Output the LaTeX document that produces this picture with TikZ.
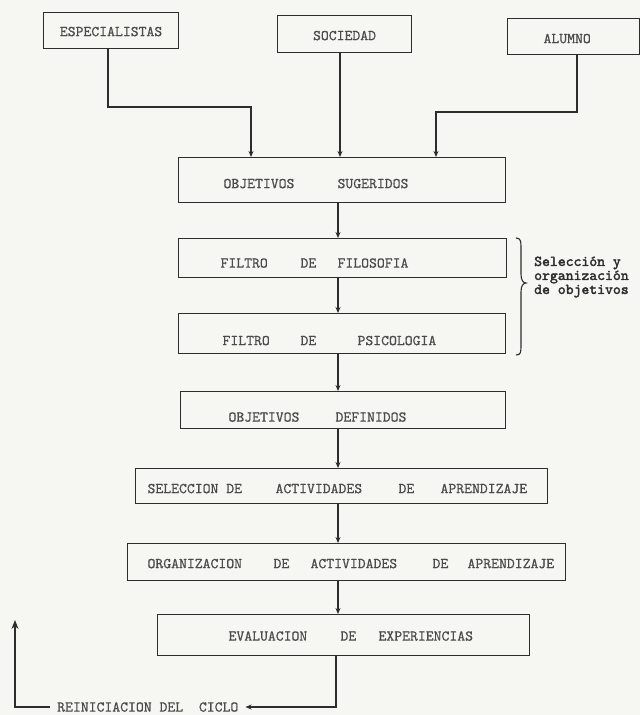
\documentclass[tikz,border=0pt]{standalone}
\usepackage{fontspec}
\newfontfamily\twfont{lmmono10-regular.otf}[FakeBold=0.6]
\newfontfamily\twbold{lmmono10-regular.otf}[FakeBold=2.2]
\usetikzlibrary{arrows.meta}
\definecolor{bg}{RGB}{246,246,243}
\definecolor{ink}{RGB}{45,45,45}
\definecolor{txt}{RGB}{75,75,75}
\newcommand\wat[2]{\rlap{\hspace*{#1pt}#2}}
\begin{document}
\begin{tikzpicture}[x=1pt,y=-1pt,
  font=\twfont\fontsize{15}{17}\selectfont,
  box/.style={draw=ink, line width=1.1pt, anchor=north west, inner sep=0pt, text depth=0pt, text=txt},
  arr/.style={draw=ink, line width=1.1pt, -{Stealth[length=6pt,width=5pt]}},
  arrbig/.style={draw=ink, line width=1.1pt, -{Stealth[length=9pt,width=7pt]}},
  ln/.style={draw=ink, line width=1.1pt}]
\fill[bg] (0,0) rectangle (640,715);
\useasboundingbox (0,0) rectangle (640,715);

% source boxes
\node[box, minimum height=36pt, text height=11.2pt] (esp) at (43,12) {\makebox[135pt]{ESPECIALISTAS}};
\node[box, minimum height=37pt, text height=12.2pt] (soc) at (277,15) {\makebox[134pt]{SOCIEDAD}};
\node[box, minimum height=36pt, text height=13.2pt] (alu) at (507,18) {\makebox[132pt][l]{\wat{36}{ALUMNO}}};

% main chain
\node[box, minimum height=45pt, text height=16.2pt] (sug) at (178,157)
  {\makebox[327pt][l]{\wat{45}{OBJETIVOS}\wat{159}{SUGERIDOS}}};
\node[box, minimum height=39pt, text height=19.2pt] (fil) at (178,238)
  {\makebox[328pt][l]{\wat{42}{FILTRO}\wat{122}{DE}\wat{159}{FILOSOFIA}}};
\node[box, minimum height=40pt, text height=23.2pt] (psi) at (178,313)
  {\makebox[327pt][l]{\wat{44}{FILTRO}\wat{122}{DE}\wat{179}{PSICOLOGIA}}};
\node[box, minimum height=37pt, text height=23.2pt] (def) at (180,391)
  {\makebox[325pt][l]{\wat{48}{OBJETIVOS}\wat{155}{DEFINIDOS}}};
\node[box, minimum height=35pt, text height=14.2pt] (sel) at (135,468)
  {\makebox[412pt][l]{\wat{12}{SELECCION DE}\wat{140}{ACTIVIDADES}\wat{263}{DE}\wat{305}{APRENDIZAJE}}};
\node[box, minimum height=37pt, text height=12.2pt] (org) at (127,543)
  {\makebox[438pt][l]{\wat{20}{ORGANIZACION}\wat{146}{DE}\wat{183}{ACTIVIDADES}\wat{305}{DE}\wat{340}{APRENDIZAJE}}};
\node[box, minimum height=41pt, text height=11.2pt] (eva) at (157,614)
  {\makebox[372pt][l]{\wat{71}{EVALUACION}\wat{183}{DE}\wat{221}{EXPERIENCIAS}}};

% connectors from sources
\coordinate (e1) at (108,107);
\coordinate (e2) at (251,107);
\draw[arr] (esp.south -| e1) -- (e1) -- (e2) -- (sug.north -| e2);
\coordinate (s1) at (340,0);
\draw[arr] (soc.south -| s1) -- (sug.north -| s1);
\coordinate (a1) at (577,112);
\coordinate (a2) at (436,112);
\draw[arr] (alu.south -| a1) -- (a1) -- (a2) -- (sug.north -| a2);

% spine
\coordinate (sp) at (338,0);
\foreach \a/\b in {sug/fil, fil/psi, psi/def, def/sel, sel/org, org/eva}
  \draw[arr] (\a.south -| sp) -- (\b.north -| sp);

% restart loop
\node[anchor=west, inner xsep=7pt, inner ysep=0pt, text height=9.2pt, text depth=0pt, text=txt] (rein) at (50,707)
  {REINICIACION DEL\ \ CICLO};
\coordinate (bt) at (336,707);
\draw[arr] (eva.south -| bt) -- (bt) -- (rein.east);
\coordinate (up) at (15,620);
\draw[arrbig] (rein.west) -| (up);

% brace and its label
\draw[ln] (516,238) .. controls (521,238) and (521,242) .. (521,248)
  -- (521,274) .. controls (521,280) and (523,283) .. (526,283)
  .. controls (523,283) and (521,286) .. (521,292)
  -- (521,345) .. controls (521,352) and (521,355) .. (516,355);
\node[anchor=west, align=left, inner sep=0pt, text=ink,
  font=\twbold\fontsize{15}{14}\selectfont] (selorg) at (534,277)
  {Selección y\\organización\\de objetivos};
\end{tikzpicture}
\end{document}
